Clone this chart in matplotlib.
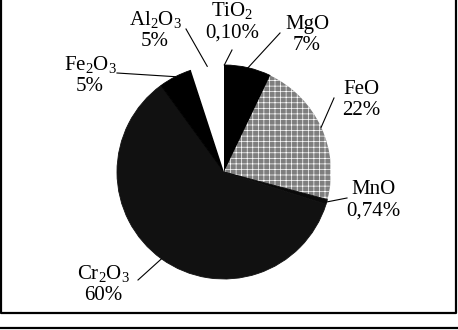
import numpy as np
import matplotlib
matplotlib.use("Agg")
import matplotlib.pyplot as plt

# oxide composition (%), clockwise from 12 o'clock
oxides = ["TiO2", "MgO", "FeO", "MnO", "Cr2O3", "Fe2O3", "Al2O3"]
labels = [r"TiO$_\mathrm{2}$", "MgO", "FeO", "MnO",
          r"Cr$_\mathrm{2}$O$_\mathrm{3}$", r"Fe$_\mathrm{2}$O$_\mathrm{3}$",
          r"Al$_\mathrm{2}$O$_\mathrm{3}$"]
values = [0.10, 7, 22, 0.74, 60, 5, 5]
pct_text = ["0,10%", "7%", "22%", "0,74%", "60%", "5%", "5%"]

colors = ["#000000", "#000000", "#7e7e7e", "#0a0a0a", "#111111", "#000000", "#ffffff"]
hatches = [None, None, "+++", None, None, None, None]

# label placement in pixel coords (x, y from top)
label_pos = [(232, 21), (307, 35), (361, 100), (373, 200), (103, 284), (90, 75), (155, 30)]
# elbow point of each leader line (pixel coords)
elbow = [(232, 50), (280, 33), (334, 98), (347, 198), (138, 280), (117, 73), (186, 29)]

plt.rcParams["font.family"] = ["Liberation Serif", "DejaVu Serif"]
plt.rcParams["mathtext.fontset"] = "custom"
plt.rcParams["mathtext.rm"] = "Liberation Serif"
plt.rcParams["mathtext.it"] = "Liberation Serif:italic"
plt.rcParams["hatch.color"] = "white"
plt.rcParams["hatch.linewidth"] = 0.5

W, H = 458, 330
fig = plt.figure(figsize=(W / 100, H / 100), dpi=100)
ax = fig.add_axes([0, 0, 1, 1])

cx, cy, r = 224, H - 172, 107
wedges, _ = ax.pie(values, colors=colors, startangle=90, counterclock=False,
                   center=(cx, cy), radius=r, frame=True)
for w, h, c in zip(wedges, hatches, colors):
    if h:
        w.set_hatch(h)
    elif c != "#ffffff":
        # hide antialiasing seams between the dark slices
        w.set_edgecolor(c)
        w.set_linewidth(0.6)
ax.set_xlim(0, W)
ax.set_ylim(0, H)
ax.set_aspect("equal")
ax.axis("off")

# leader lines and labels
for w, lab, pct, (lx, ly), (ex, ey) in zip(wedges, labels, pct_text, label_pos, elbow):
    ang = np.deg2rad((w.theta1 + w.theta2) / 2)
    px, py = cx + r * np.cos(ang), cy + r * np.sin(ang)
    ax.plot([px, ex], [py, H - ey], color="black", lw=0.8)
    ax.text(lx, H - ly, lab + "\n" + pct, ha="center", va="center",
            fontsize=15, linespacing=1.2)

# frame of the scanned figure
ax.plot([1, 1, 456, 456], [H, H - 313, H - 313, H], color="black", lw=1.6)
ax.plot([0, W], [H - 328, H - 328], color="black", lw=1.6)

fig.savefig("out.png", dpi=100)
